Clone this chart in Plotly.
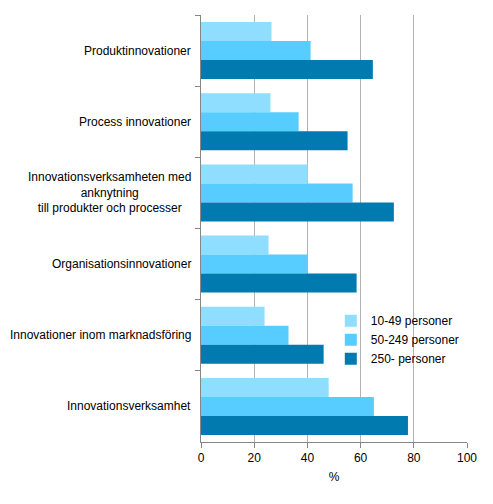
import plotly.graph_objects as go

categories = [
    "Produktinnovationer",
    "Process innovationer",
    "Innovationsverksamheten med<br>anknytning<br>till produkter och processer",
    "Organisationsinnovationer",
    "Innovationer inom marknadsföring",
    "Innovationsverksamhet",
]
series_names = ["10-49 personer", "50-249 personer", "250- personer"]
small = [26.5, 26.1, 40.1, 25.4, 23.9, 48.0]
medium = [41.2, 36.7, 57.0, 40.1, 32.9, 65.0]
large = [64.6, 55.1, 72.5, 58.5, 46.1, 77.8]
colors = ["#8FDDFF", "#57CDFF", "#007AAF"]
x_ticks = [0, 20, 40, 60, 80, 100]

font_family = "Liberation Sans, Arial, sans-serif"

fig = go.Figure()
for name, vals, col in zip(series_names, [small, medium, large], colors):
    fig.add_trace(go.Bar(
        y=categories, x=vals, name=name, orientation="h",
        marker=dict(color=col, line=dict(width=0)),
    ))

for cat in categories:
    fig.add_annotation(
        x=0, xref="paper", xshift=-8, y=cat, yref="y",
        text=cat, showarrow=False, xanchor="right", yanchor="middle",
        align="center", font=dict(family=font_family, size=12, color="#000000"),
    )

# page body has an 8px default margin, so the figure is sized to fit the window
fig.update_layout(
    width=485, height=496,
    margin=dict(l=193, r=26, t=7, b=62, autoexpand=False),
    paper_bgcolor="white", plot_bgcolor="white",
    barmode="group", bargap=0.2, bargroupgap=0,
    font=dict(family=font_family, size=12, color="#000000"),
    showlegend=True,
    legend=dict(
        x=0.488, y=0.318, xanchor="left", yanchor="top",
        bgcolor="rgba(0,0,0,0)", font=dict(size=12, color="#000000"),
        itemwidth=30, tracegroupgap=0,
    ),
    xaxis=dict(
        range=[0, 100], tickvals=x_ticks, ticktext=[str(v) for v in x_ticks],
        showgrid=True, gridcolor="#B3B3B3", gridwidth=1,
        ticks="outside", ticklen=5, tickcolor="#868686",
        showline=True, linecolor="#868686", linewidth=1,
        zeroline=False, automargin=False,
        tickfont=dict(color="#000000"),
        title=dict(text="%", font=dict(size=12, color="#000000"), standoff=8),
    ),
    yaxis=dict(
        autorange="reversed", showticklabels=False, automargin=False,
        ticks="outside", tickson="boundaries", ticklen=5, tickcolor="#868686",
        showline=True, linecolor="#868686", linewidth=1,
        showgrid=False,
    ),
)

fig.write_html("out.html")
